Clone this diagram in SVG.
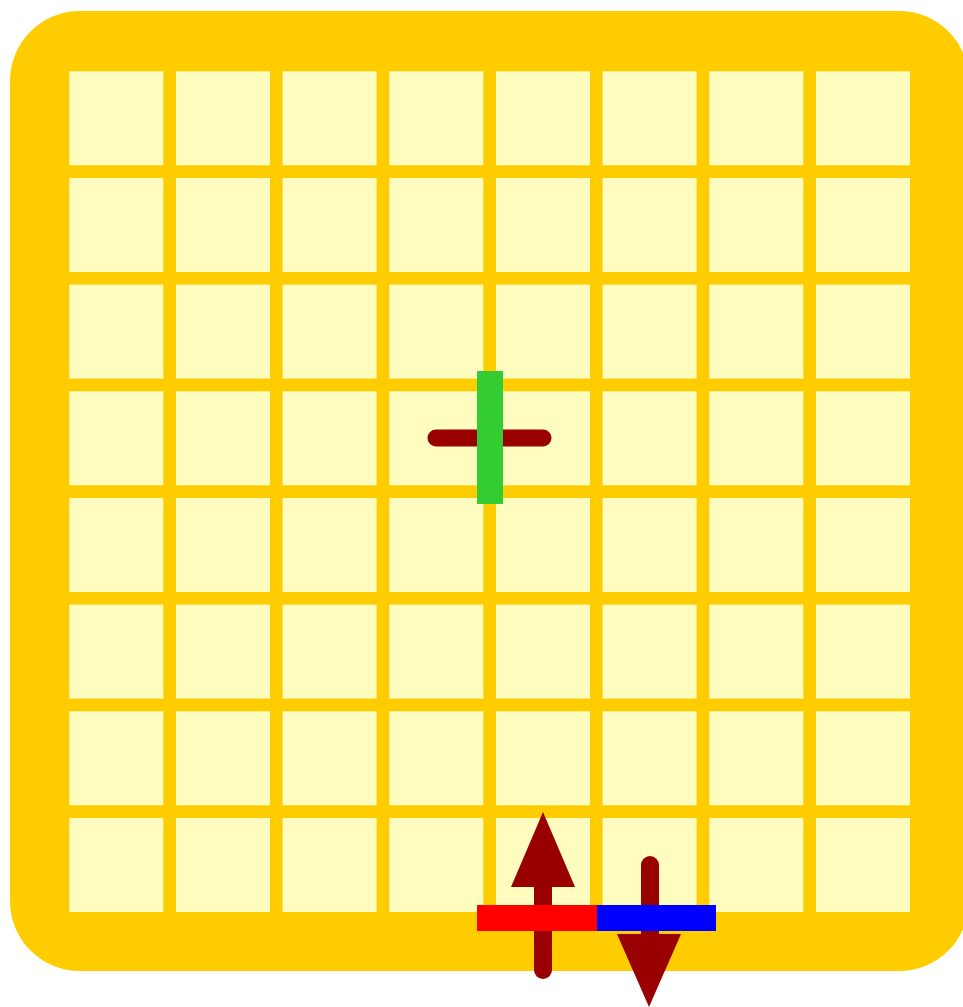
<svg xmlns="http://www.w3.org/2000/svg" width="963" height="1007" viewBox="0 0 963 1007">
<defs>
<style>
.board{fill:#FFCC00}
.cell{fill:#FFFCC0}
.shaft{stroke:#990000;stroke-width:18;stroke-linecap:round;fill:none}
.head{fill:#990000}
</style>
<g id="row">
<rect class="cell" x="69.3" y="0" width="94" height="94"/>
<rect class="cell" x="176" y="0" width="94" height="94"/>
<rect class="cell" x="282.6" y="0" width="94" height="94"/>
<rect class="cell" x="389.3" y="0" width="94" height="94"/>
<rect class="cell" x="496" y="0" width="94" height="94"/>
<rect class="cell" x="602.6" y="0" width="94" height="94"/>
<rect class="cell" x="709.3" y="0" width="94" height="94"/>
<rect class="cell" x="816" y="0" width="94" height="94"/>
</g>
</defs>
<rect fill="#ffffff" x="0" y="0" width="963" height="1007"/>
<g id="board">
<rect class="board" x="10" y="11" width="959" height="960" rx="70" ry="70"/>
<use href="#row" y="71.3"/>
<use href="#row" y="178"/>
<use href="#row" y="284.6"/>
<use href="#row" y="391.3"/>
<use href="#row" y="498"/>
<use href="#row" y="604.6"/>
<use href="#row" y="711.3"/>
<use href="#row" y="818"/>
</g>
<g id="center-marker">
<line class="shaft" x1="436" y1="438" x2="543" y2="438" style="stroke-width:17"/>
<rect x="477" y="371" width="26" height="133" fill="#33CC33"/>
</g>
<g id="connectors">
<g id="arrow-up">
<line class="shaft" x1="543" y1="970" x2="543" y2="880"/>
<polygon class="head" points="543,812 511,887 575,887"/>
</g>
<g id="arrow-down">
<line class="shaft" x1="650" y1="865" x2="650" y2="940"/>
<polygon class="head" points="617,934 681,934 649,1007"/>
</g>
</g>
<g id="bar">
<rect x="477" y="905" width="120" height="26" fill="#FF0000"/>
<rect x="597" y="905" width="119" height="26" fill="#0000FF"/>
</g>
</svg>
